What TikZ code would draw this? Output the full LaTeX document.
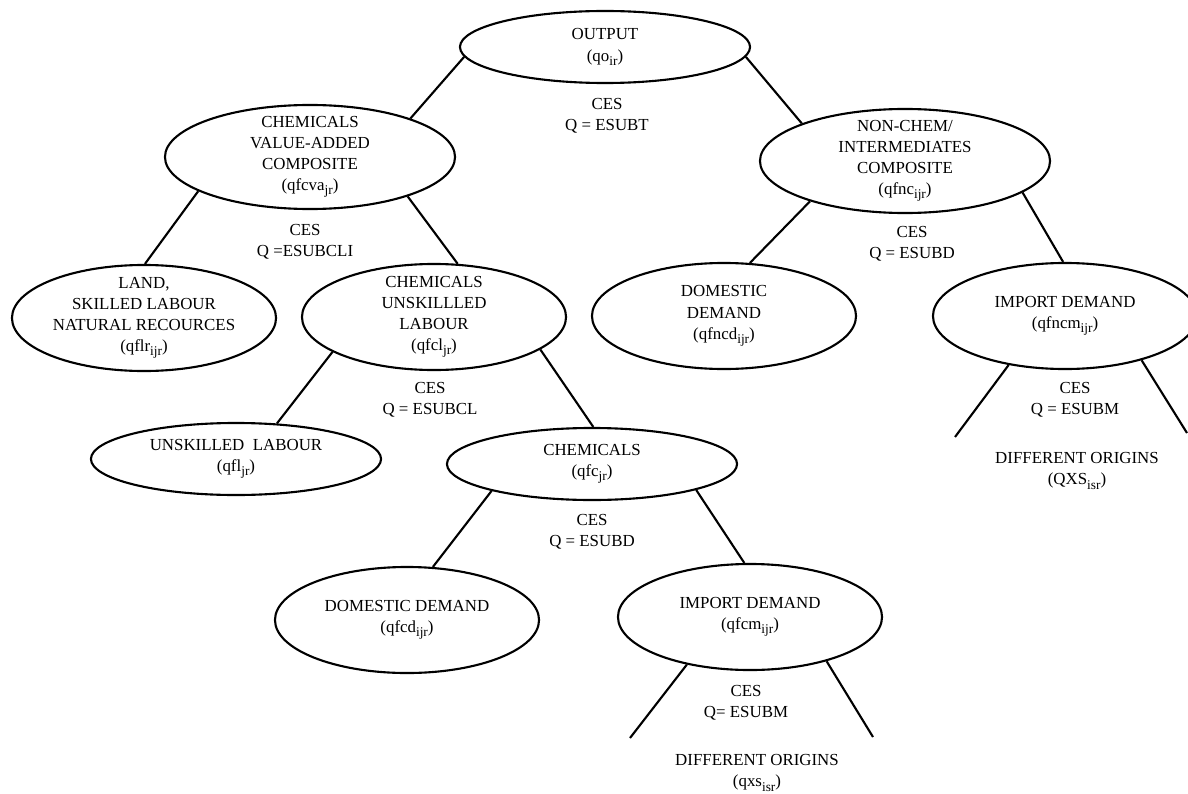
\documentclass[tikz,border=0pt]{standalone}
\usepackage{fontspec}
\setmainfont{Liberation Serif}
\usetikzlibrary{shapes.geometric}
\newcommand\lowsub[1]{\raisebox{-0.55ex}{\fontsize{9.5}{9.5}\selectfont #1}}
\tikzset{
  every node/.style={font=\fontsize{12}{15}\selectfont,align=center},
  oval/.style={draw,ellipse,line width=1.5pt,inner sep=0pt},
  wide/.style={oval,minimum width=7.25cm,minimum height=1.8cm},
  tall/.style={oval,minimum width=7.25cm,minimum height=2.6cm,inner ysep=-5pt},
  mid/.style={oval,minimum width=6.6cm,minimum height=2.65cm,inner ysep=-4pt},
  link/.style={line width=1.5pt}
}
\begin{document}
\begin{tikzpicture}[x=0.025cm,y=-0.025cm]
\clip (0,0) rectangle (1188,794);
\node[wide] (out) at (605,47) {OUTPUT\\(qo\lowsub{ir})};
\node[tall] (cva) at (310,157) {CHEMICALS\\VALUE-ADDED\\COMPOSITE\\(qfcva\lowsub{jr})};
\node[tall] (nc) at (905,161) {NON-CHEM/\\INTERMEDIATES\\COMPOSITE\\(qfnc\lowsub{ijr})};
\node[mid] (land) at (144,318) {LAND,\\SKILLED LABOUR\\NATURAL RECOURCES\\(qflr\lowsub{ijr})};
\node[mid] (cul) at (434,317) {CHEMICALS\\UNSKILLLED\\LABOUR\\(qfcl\lowsub{jr})};
\node[mid] (ncd) at (724,316) {DOMESTIC\\DEMAND\\(qfncd\lowsub{ijr})};
\node[mid] (ncm) at (1065,316) {IMPORT DEMAND\\(qfncm\lowsub{ijr})};
\node[wide] (ul) at (236,459) {UNSKILLED\ \ LABOUR\\(qfl\lowsub{jr})};
\node[wide] (chem) at (592,464) {CHEMICALS\\(qfc\lowsub{jr})};
\node[mid] (fcd) at (407,620) {DOMESTIC DEMAND\\(qfcd\lowsub{ijr})};
\node[mid] (fcm) at (750,617) {IMPORT DEMAND\\(qfcm\lowsub{ijr})};

\node (cesT) at (607,116) {CES\\Q = ESUBT};
\node (cesCLI) at (305,242) {CES\\Q =ESUBCLI};
\node (cesNC) at (912,244) {CES\\Q = ESUBD};
\node (cesCL) at (430,400) {CES\\Q = ESUBCL};
\node (cesC) at (592,532) {CES\\Q = ESUBD};
\node (cesNM) at (1075,400) {CES\\Q = ESUBM};
\node (cesM) at (746,703) {CES\\Q= ESUBM};
\node (orgNM) at (1077,471) {DIFFERENT ORIGINS\\(QXS\lowsub{isr})};
\node (orgM) at (757,773) {DIFFERENT ORIGINS\\(qxs\lowsub{isr})};

\coordinate (ncmL) at (955,437);
\coordinate (ncmR) at (1187,433);
\coordinate (fcmL) at (630,738);
\coordinate (fcmR) at (873,737);

\draw[link] (out.184) -- (cva.21);
\draw[link] (out.356) -- (nc.160);
\draw[link] (cva.197) -- (land.89);
\draw[link] (cva.338) -- (cul.66);
\draw[link] (nc.203) -- (ncd.64);
\draw[link] (nc.345) -- (ncm.92);
\draw[link] (cul.199) -- (ul.41);
\draw[link] (cul.343) -- (chem.88);
\draw[link] (chem.195) -- (fcd.64);
\draw[link] (chem.346) -- (fcm.96);
\draw[link] (ncm.221) -- (ncmL);
\draw[link] (ncm.330) -- (ncmR);
\draw[link] (fcm.217) -- (fcmL);
\draw[link] (fcm.330) -- (fcmR);
\end{tikzpicture}
\end{document}
